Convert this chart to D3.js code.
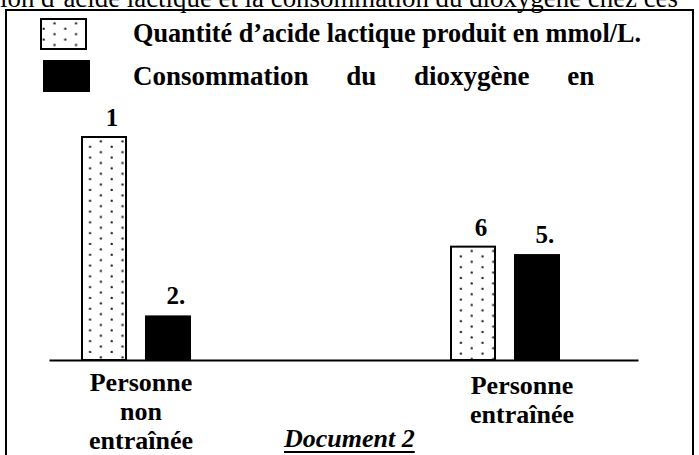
<!DOCTYPE html>
<html>
<head>
<meta charset="utf-8">
<script src="https://cdn.jsdelivr.net/npm/d3@7/dist/d3.min.js"></script>
<style>
  html, body { margin: 0; padding: 0; background: #fff; }
  svg { display: block; }
  text { font-family: "Liberation Serif", "Times New Roman", serif; fill: #000; }
</style>
</head>
<body>
<script>
// ---- data ----
const categories = ["Personne non entraînée", "Personne entraînée"];
const categoryLines = [["Personne", "non", "entraînée"], ["Personne", "entraînée"]];
const series = ["Quantité d’acide lactique produit en mmol/L.", "Consommation du dioxygène en"];
const lactate = [12, 6.1];
const oxygen = [2.4, 5.7];
const lactateLabels = ["1", "6"];
const oxygenLabels = ["2.", "5."];
const topLine = "ion d’acide lactique et la consommation du dioxygène chez ces";
const docTitle = "Document 2";

// ---- chart ----
const W = 699, H = 455;
const svg = d3.select("body").append("svg").attr("width", W).attr("height", H);
const defs = svg.append("defs");

function dotPattern(id, x0, y0) {
  const p = defs.append("pattern").attr("id", id)
    .attr("patternUnits", "userSpaceOnUse")
    .attr("x", x0).attr("y", y0)
    .attr("width", 21.6).attr("height", 10.8);
  p.append("rect").attr("width", 21.6).attr("height", 10.8).attr("fill", "#fff");
  p.append("circle").attr("cx", 2.7).attr("cy", 9.7).attr("r", 1.2).attr("fill", "#222");
  p.append("circle").attr("cx", 13.5).attr("cy", 4.3).attr("r", 1.2).attr("fill", "#222");
  return "url(#" + id + ")";
}

// top (cut) line of text
svg.append("text").attr("x", 0).attr("y", 7)
  .attr("font-size", 27)
  .attr("textLength", 678).attr("lengthAdjust", "spacingAndGlyphs")
  .text(topLine);

// frame
svg.append("rect").attr("x", 6).attr("y", 10).attr("width", 687).attr("height", 470)
  .attr("fill", "none").attr("stroke", "#000").attr("stroke-width", 2);

// scales
const x0 = d3.scalePoint().domain(categories).range([136, 505]);
const x1 = d3.scaleBand().domain(series).range([-55, 55]).paddingInner(0.281);
const xLabel = d3.scalePoint().domain(categories).range([141, 522]);
const y = d3.scaleLinear().domain([0, 12]).range([360, 137]);

// baseline axis
const axisScale = d3.scaleLinear().domain([0, 1]).range([49, 638]);
const ax = svg.append("g").attr("transform", "translate(0," + y(0) + ")")
  .call(d3.axisBottom(axisScale).tickValues([]).tickSizeOuter(0));
ax.select(".domain").attr("stroke", "#000").attr("stroke-width", 2);

// bars
const rows = categories.map((c, i) => ({
  cat: c,
  vals: [
    { s: series[0], v: lactate[i], label: lactateLabels[i], idx: i },
    { s: series[1], v: oxygen[i], label: oxygenLabels[i], idx: i }
  ]
}));

const groups = svg.selectAll("g.grp").data(rows).enter().append("g")
  .attr("class", "grp")
  .attr("transform", d => "translate(" + x0(d.cat) + ",0)");

groups.each(function (d) {
  const g = d3.select(this);
  d.vals.forEach((b, k) => {
    const bx = x1(b.s), bw = x1.bandwidth();
    const top = y(b.v), h = y(0) - y(b.v);
    if (k === 0) {
      const absX = x0(d.cat) + bx;
      const fill = dotPattern("dots" + b.idx, absX, top);
      g.append("rect").attr("x", bx + 1).attr("y", top).attr("width", bw - 2).attr("height", h)
        .attr("fill", fill).attr("stroke", "#000").attr("stroke-width", 2);
    } else {
      g.append("rect").attr("x", bx).attr("y", top).attr("width", bw).attr("height", h)
        .attr("fill", "#000");
    }
    g.append("text").attr("x", bx + bw / 2 + 8).attr("y", top - 11)
      .attr("text-anchor", "middle").attr("font-size", 25).attr("font-weight", "bold")
      .text(b.label);
  });
});

// category labels
categories.forEach((c, i) => {
  categoryLines[i].forEach((ln, k) => {
    svg.append("text").attr("x", xLabel(c)).attr("y", 391 + i * 3 + k * 29)
      .attr("text-anchor", "middle").attr("font-size", 26).attr("font-weight", "bold")
      .text(ln);
  });
});

// legend
svg.append("rect").attr("x", 41).attr("y", 19).attr("width", 45).attr("height", 30)
  .attr("fill", dotPattern("dotsLeg", 41, 19)).attr("stroke", "#000").attr("stroke-width", 2);
svg.append("rect").attr("x", 43).attr("y", 60).attr("width", 47).attr("height", 32)
  .attr("fill", "#000");
svg.append("text").attr("x", 133).attr("y", 42)
  .attr("font-size", 28).attr("font-weight", "bold")
  .attr("textLength", 508).attr("lengthAdjust", "spacingAndGlyphs")
  .text(series[0]);
svg.append("text").attr("x", 133).attr("y", 85)
  .attr("font-size", 27).attr("font-weight", "bold")
  .attr("word-spacing", 31)
  .text(series[1]);

// document title
const dtX = 284;
const dt = svg.append("text").attr("x", dtX).attr("y", 447)
  .attr("font-size", 26).attr("font-weight", "bold").attr("font-style", "italic")
  .text(docTitle);
const dtLen = dt.node().getComputedTextLength();
svg.append("line").attr("x1", dtX).attr("x2", dtX + dtLen).attr("y1", 452).attr("y2", 452)
  .attr("stroke", "#000").attr("stroke-width", 2);
</script>
</body>
</html>
